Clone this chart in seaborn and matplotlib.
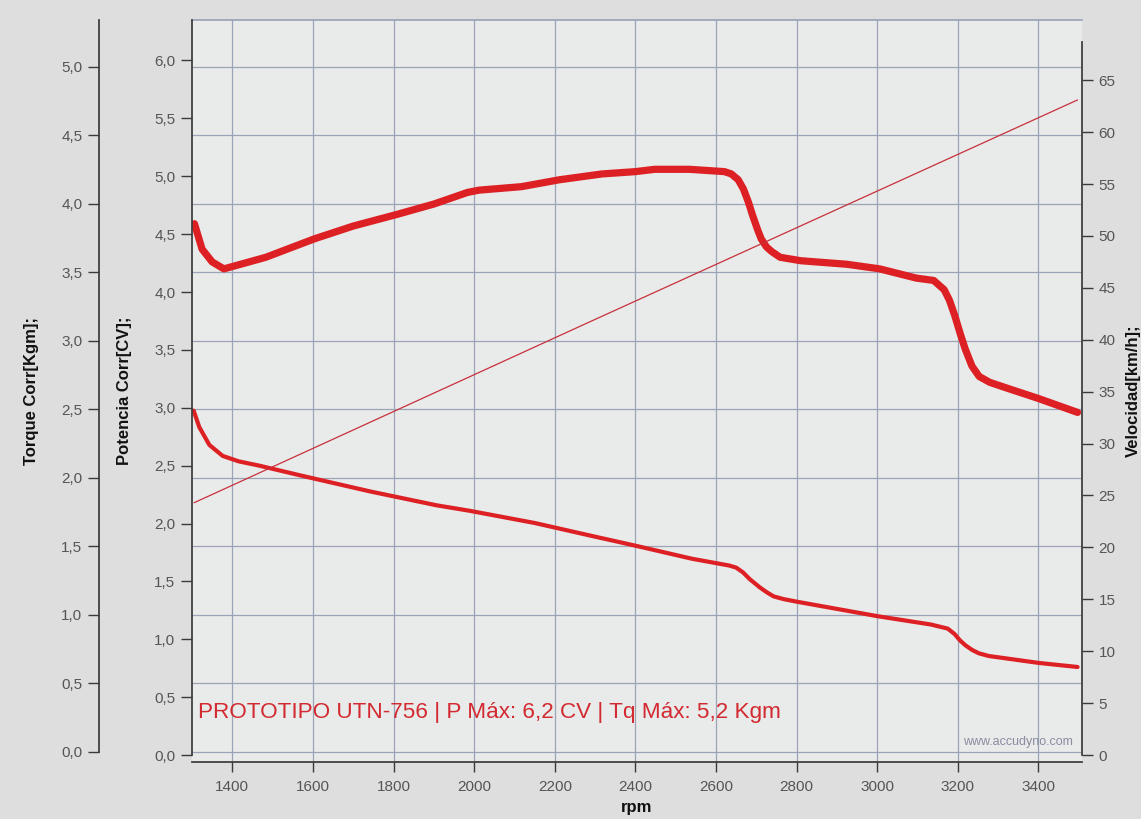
import matplotlib
matplotlib.use("Agg")
import matplotlib.pyplot as plt
from matplotlib.ticker import FuncFormatter
import seaborn as sns

# Potencia Corr [CV] (curva superior)
pot_rpm = [1306, 1325, 1350, 1379, 1400, 1483, 1604, 1700, 1808, 1900,
           1950, 1983, 2012, 2117, 2212, 2317, 2400, 2448, 2534, 2621,
           2638, 2655, 2668, 2681, 2690, 2703, 2712, 2725, 2738, 2759,
           2811, 2924, 3006, 3097, 3140, 3166, 3179, 3192, 3205, 3218,
           3235, 3253, 3279, 3313, 3400, 3497]
pot_cv = [4.59, 4.37, 4.26, 4.20, 4.22, 4.30, 4.46, 4.57, 4.67, 4.76,
          4.82, 4.86, 4.88, 4.91, 4.97, 5.02, 5.04, 5.06, 5.06, 5.04,
          5.02, 4.97, 4.89, 4.77, 4.67, 4.54, 4.46, 4.39, 4.35, 4.30,
          4.27, 4.24, 4.20, 4.12, 4.10, 4.02, 3.93, 3.80, 3.65, 3.51,
          3.36, 3.27, 3.22, 3.18, 3.08, 2.96]

# Torque Corr [Kgm] (curva inferior)
tq_rpm = [1304, 1318, 1343, 1376, 1416, 1465, 1580, 1743, 1906, 1988,
          2151, 2286, 2400, 2540, 2633, 2650, 2667, 2684, 2709, 2726,
          2743, 2768, 2803, 3002, 3133, 3175, 3192, 3205, 3218, 3235,
          3252, 3277, 3302, 3400, 3497]
tq_kgm = [2.49, 2.37, 2.24, 2.16, 2.12, 2.09, 2.01, 1.90, 1.80, 1.76,
          1.67, 1.58, 1.505, 1.41, 1.36, 1.345, 1.31, 1.26, 1.20, 1.165,
          1.135, 1.115, 1.095, 0.99, 0.93, 0.90, 0.86, 0.815, 0.78, 0.745,
          0.72, 0.70, 0.69, 0.65, 0.62]

# Velocidad [km/h]
vel_rpm = [1305, 2274, 3497]
vel_kmh = [24.3, 41.5, 63.1]

rpm_ticks = list(range(1400, 3401, 200))
tq_ticks = [i * 0.5 for i in range(11)]
pot_ticks = [i * 0.5 for i in range(13)]
vel_ticks = list(range(0, 66, 5))

sns.set_theme(style="white")
plt.rcParams['font.family'] = ['Liberation Sans', 'DejaVu Sans']

red = '#dd2024'
grid_c = '#9aa3b8'
spine_c = '#3a3a3a'
lab_c = '#555555'

comma = FuncFormatter(lambda v, _: f"{v:.1f}".replace('.', ','))

fig = plt.figure(figsize=(11.41, 8.19), dpi=100)
fig.patch.set_facecolor('#dedede')
ax_t = fig.add_axes([0.1683, 0.0696, 0.780, 0.906])
ax_p = ax_t.twinx()
ax_v = ax_t.twinx()

ax_t.set_facecolor('#e9eaea')
ax_t.set_xlim(1300, 3508)
ax_t.set_ylim(-0.073, 5.34)
ax_p.set_ylim(-0.06, 6.35)
ax_v.set_ylim(-0.67, 70.8)

# grid: vertical at rpm ticks, horizontal at torque ticks
ax_t.set_xticks(rpm_ticks)
ax_t.set_yticks(tq_ticks)
ax_t.grid(True, color=grid_c, linewidth=0.9)
ax_t.set_axisbelow(True)

for ax in (ax_t, ax_p, ax_v):
    for s in ax.spines.values():
        s.set_visible(False)

ax_t.spines['bottom'].set_visible(True)
ax_t.spines['bottom'].set_color(spine_c)
ax_t.spines['top'].set_visible(True)
ax_t.spines['top'].set_color(grid_c)
ax_t.spines['left'].set_visible(True)
ax_t.spines['left'].set_color(spine_c)
ax_t.spines['left'].set_position(('outward', 67))
ax_t.spines['left'].set_bounds(0, 5.34)

ax_p.yaxis.tick_left()
ax_p.yaxis.set_label_position('left')
ax_p.spines['left'].set_visible(True)
ax_p.spines['left'].set_color(spine_c)
ax_p.spines['left'].set_bounds(0, 6.35)
ax_p.set_yticks(pot_ticks)

ax_v.spines['right'].set_visible(True)
ax_v.spines['right'].set_color(spine_c)
ax_v.spines['right'].set_bounds(0, 68.7)
ax_v.set_yticks(vel_ticks)

ax_t.yaxis.set_major_formatter(comma)
ax_p.yaxis.set_major_formatter(comma)

tick_kw = dict(direction='out', length=8, width=1, color=spine_c,
               labelcolor=lab_c, labelsize=11)
ax_t.tick_params(axis='y', left=True, pad=4, **tick_kw)
ax_p.tick_params(axis='y', left=True, right=False, pad=4, **tick_kw)
ax_v.tick_params(axis='y', right=True, left=False, pad=4, **tick_kw)
ax_t.tick_params(axis='x', bottom=True, pad=6, direction='out', length=7,
                 width=1, color=spine_c, labelcolor=lab_c, labelsize=11)

# curves
sns.lineplot(x=tq_rpm, y=tq_kgm, ax=ax_t, color=red, linewidth=3.0,
             solid_capstyle='round', solid_joinstyle='round')
sns.lineplot(x=vel_rpm, y=vel_kmh, ax=ax_v, color='#c8303c', linewidth=0.9)
sns.lineplot(x=pot_rpm, y=pot_cv, ax=ax_p, color=red, linewidth=5.2,
             solid_capstyle='round', solid_joinstyle='round')

lab_kw = dict(fontsize=12, fontweight='bold', color='#111111')
ax_t.set_ylabel("Torque Corr[Kgm];", labelpad=16, **lab_kw)
ax_p.set_ylabel("Potencia Corr[CV];", labelpad=16, **lab_kw)
ax_v.set_ylabel("Velocidad[km/h];", labelpad=7, **lab_kw)
ax_t.set_xlabel("rpm", labelpad=4, **lab_kw)

ax_t.text(0.007, 0.067, "PROTOTIPO UTN-756 | P Máx: 6,2 CV | Tq Máx: 5,2 Kgm",
          transform=ax_t.transAxes, color='#d22a30', fontsize=16.2,
          va='center', ha='left')
ax_t.text(0.99, 0.027, "www.accudyno.com", transform=ax_t.transAxes,
          color='#8a8ca0', fontsize=9, va='center', ha='right')

fig.savefig('out.png', dpi=100, facecolor=fig.get_facecolor())
